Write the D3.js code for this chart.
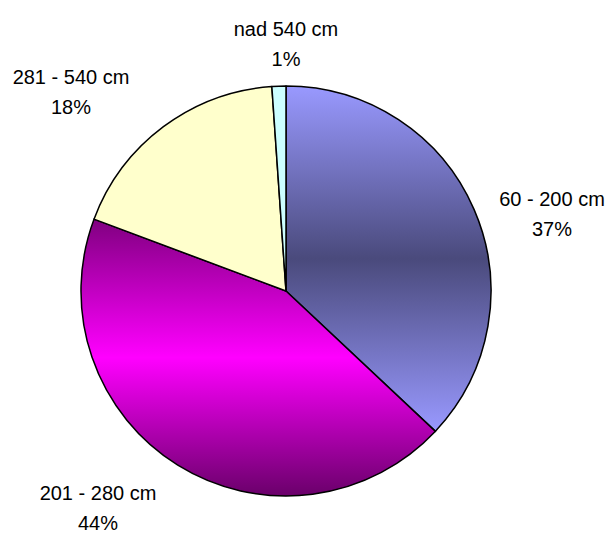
<!doctype html>
<html>
  <head>
    <meta charset="utf-8">
    <title>pie</title>
    <style>
      * { margin: 0; padding: 0; }
      body { background: #fff; font-family: Arial, "Liberation Sans", sans-serif; }
    </style>
    <script src="https://d3js.org/d3.v7.min.js"></script>
  </head>
  <body>
    <div id="chart"></div>
    <script>
      // data
      var categories = ["60 - 200 cm", "201 - 280 cm", "281 - 540 cm", "nad 540 cm"];
      var values = [37.0, 43.7, 18.2, 1.1];

      // gradient colours per slice (edge, middle, edge)
      var shades = [
        ["#9999ff", "#4a4a7c", "#9999ff"],
        ["#800080", "#ff00ff", "#6a006a"],
        ["#ffffcc", "#ffffcc", "#ffffcc"],
        ["#ccffff", "#ccffff", "#ccffff"]
      ];

      // where the two-line labels sit (centre x, first baseline y)
      var labelPos = [[552, 206], [98, 500], [71, 84], [286, 36]];

      var W = 615, H = 534;
      var cx = 286, cy = 291, R = 205;

      var svg = d3.select("#chart").append("svg")
        .attr("width", W).attr("height", H);

      var defs = svg.append("defs");
      shades.forEach(function (s, i) {
        var g = defs.append("linearGradient")
          .attr("id", "g" + i)
          .attr("x1", 0).attr("y1", 0).attr("x2", 0).attr("y2", 1);
        g.append("stop").attr("offset", "0%").attr("stop-color", s[0]);
        g.append("stop").attr("offset", "50%").attr("stop-color", s[1]);
        g.append("stop").attr("offset", "100%").attr("stop-color", s[2]);
      });

      var total = d3.sum(values);
      var pie = d3.pie().sort(null).value(function (d) { return d; });
      var arc = d3.arc().innerRadius(0).outerRadius(R);

      var g = svg.append("g").attr("transform", "translate(" + cx + "," + cy + ")");

      g.selectAll("path")
        .data(pie(values))
        .enter().append("path")
        .attr("d", arc)
        .attr("fill", function (d, i) { return "url(#g" + i + ")"; })
        .attr("stroke", "#000")
        .attr("stroke-width", 1.5)
        .attr("stroke-linejoin", "round");

      var lab = svg.selectAll("text.lab")
        .data(categories)
        .enter().append("text")
        .attr("class", "lab")
        .attr("text-anchor", "middle")
        .attr("font-size", "20px")
        .attr("fill", "#000");

      lab.append("tspan")
        .attr("x", function (d, i) { return labelPos[i][0]; })
        .attr("y", function (d, i) { return labelPos[i][1]; })
        .text(function (d) { return d; });

      lab.append("tspan")
        .attr("x", function (d, i) { return labelPos[i][0]; })
        .attr("y", function (d, i) { return labelPos[i][1] + 30; })
        .text(function (d, i) { return Math.round(values[i] / total * 100) + "%"; });
    </script>
  </body>
</html>
